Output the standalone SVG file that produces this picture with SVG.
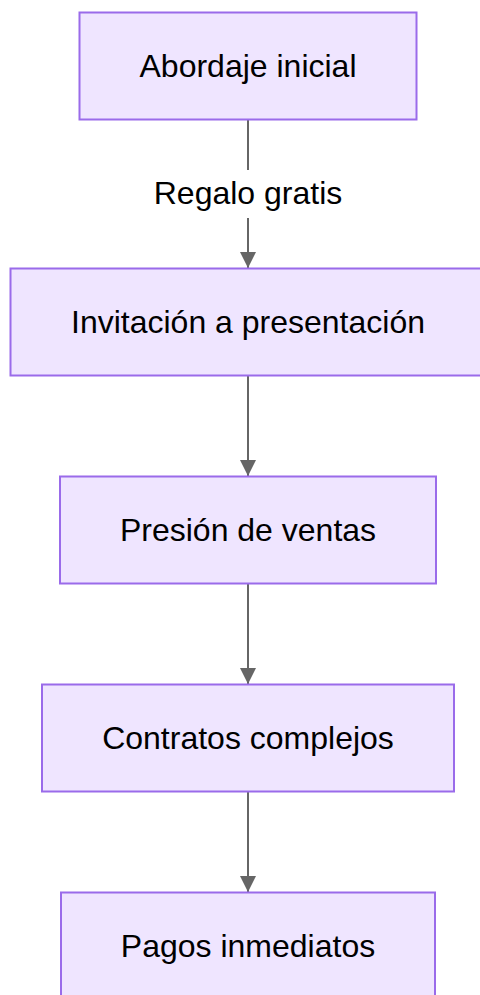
<svg xmlns="http://www.w3.org/2000/svg" width="480" height="995" viewBox="0 0 480 995">
<style>
.node rect{fill:#EFE5FF;stroke:#9A6BEA;stroke-width:2}
.node text,.lbl text{font-family:"Liberation Sans",Arial,sans-serif;font-size:32px;fill:#000;text-anchor:middle}
.edge{stroke:#666;stroke-width:2;fill:none}
</style>
<defs>
<marker id="arr" markerWidth="16" markerHeight="16" refX="16" refY="8" orient="auto" markerUnits="userSpaceOnUse">
<path d="M0,0 L16,8 L0,16 Z" fill="#666"/>
</marker>
</defs>
<rect width="480" height="995" fill="#fff"/>
<g id="connectors">
<path class="edge" d="M248,120 V268" marker-end="url(#arr)"/>
<path class="edge" d="M248,376 V476" marker-end="url(#arr)"/>
<path class="edge" d="M248,584 V684" marker-end="url(#arr)"/>
<path class="edge" d="M248,792 V892" marker-end="url(#arr)"/>
<g class="lbl" id="label-regalo">
<rect x="150" y="170" width="196" height="48" fill="#fff"/>
<text x="248" y="204">Regalo gratis</text>
</g>
</g>
<g id="n1" class="node"><rect x="79.5" y="12.5" width="337" height="107"/><text x="248" y="77">Abordaje inicial</text></g>
<g id="n2" class="node"><rect x="10.5" y="268.5" width="475" height="107"/><text x="248" y="333">Invitación a presentación</text></g>
<g id="n3" class="node"><rect x="60" y="476.5" width="376" height="107"/><text x="248" y="541">Presión de ventas</text></g>
<g id="n4" class="node"><rect x="42" y="684.5" width="412" height="107"/><text x="248" y="749">Contratos complejos</text></g>
<g id="n5" class="node"><rect x="61" y="892.5" width="374" height="107"/><text x="248" y="957">Pagos inmediatos</text></g>
</svg>
